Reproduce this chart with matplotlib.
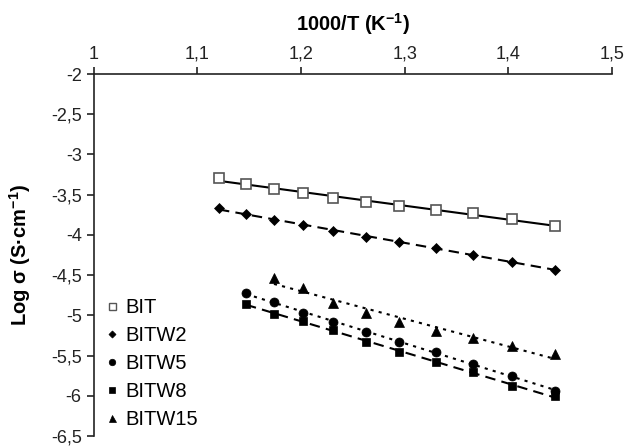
import numpy as np
import matplotlib
matplotlib.use("Agg")
import matplotlib.pyplot as plt
from matplotlib.lines import Line2D
from matplotlib.ticker import FuncFormatter, MultipleLocator

plt.rcParams['font.family'] = ['Liberation Sans', 'DejaVu Sans']
plt.rcParams['mathtext.fontset'] = 'custom'
plt.rcParams['mathtext.rm'] = 'Liberation Sans'
plt.rcParams['mathtext.bf'] = 'Liberation Sans:bold'

# 1000/T values (K^-1)
x_all = [1.121, 1.147, 1.174, 1.202, 1.231, 1.263, 1.295, 1.330, 1.366, 1.404, 1.445]

# Log sigma values per sample
bit = [-3.29, -3.37, -3.43, -3.48, -3.54, -3.59, -3.64, -3.69, -3.73, -3.80, -3.89]
bitw2 = [-3.67, -3.74, -3.81, -3.88, -3.95, -4.02, -4.09, -4.16, -4.25, -4.34, -4.43]
bitw5 = [-4.72, -4.84, -4.97, -5.08, -5.21, -5.33, -5.45, -5.61, -5.75, -5.94]
bitw8 = [-4.86, -4.98, -5.07, -5.18, -5.33, -5.46, -5.58, -5.71, -5.88, -6.00]
bitw15 = [-4.53, -4.66, -4.85, -4.97, -5.08, -5.19, -5.28, -5.38, -5.48]

series = [
    ('BIT', x_all, bit, 's', 7, 'none', '-'),
    ('BITW2', x_all, bitw2, 'D', 5, 'black', (0, (5, 3))),
    ('BITW5', x_all[1:], bitw5, 'o', 6.5, 'black', (0, (1.5, 2.5))),
    ('BITW8', x_all[1:], bitw8, 's', 6, 'black', (0, (5, 3))),
    ('BITW15', x_all[2:], bitw15, '^', 7, 'black', (0, (1.5, 2.5))),
]

fig = plt.figure(figsize=(6.29, 4.46), dpi=100)
ax = fig.add_axes([0.1487, 0.0224, 0.973 - 0.1487, 0.834 - 0.0224])

handles = []
for name, xs, ys, mk, ms, fc, ls in series:
    xs = np.array(xs)
    ys = np.array(ys)
    # linear trendline through the points
    k, b = np.polyfit(xs, ys, 1)
    ax.plot(xs, k * xs + b, color='black', lw=1.5, linestyle=ls, zorder=2)
    ec = '#555555' if fc == 'none' else 'black'
    ax.plot(xs, ys, linestyle='none', marker=mk, markersize=ms,
            markerfacecolor='white' if fc == 'none' else fc,
            markeredgecolor=ec, markeredgewidth=1.2 if fc == 'none' else 0.5, zorder=3)
    handles.append(Line2D([], [], linestyle='none', marker=mk, markersize=ms * 0.72,
                          markerfacecolor='white' if fc == 'none' else fc,
                          markeredgecolor=ec, markeredgewidth=1.0 if fc == 'none' else 0.5,
                          label=name))

ax.set_xlim(1, 1.5)
ax.set_ylim(-6.5, -2)
ax.xaxis.set_major_locator(MultipleLocator(0.1))
ax.yaxis.set_major_locator(MultipleLocator(0.5))
comma = FuncFormatter(lambda v, p: ('%g' % round(v, 2)).replace('.', ','))
ax.xaxis.set_major_formatter(comma)
ax.yaxis.set_major_formatter(comma)

ax.xaxis.tick_top()
ax.xaxis.set_label_position('top')
ax.spines['bottom'].set_visible(False)
ax.spines['right'].set_visible(False)
for s in ('top', 'left'):
    ax.spines[s].set_linewidth(1.2)
    ax.spines[s].set_color('#222222')
ax.tick_params(axis='both', direction='out', length=5, width=1.2, colors='#222222',
               labelsize=13, labelcolor='#222222')
ax.tick_params(axis='x', pad=3)

ax.set_xlabel(r'1000/T (K$^{\mathbf{-1}}$)', fontsize=14.5, fontweight='bold', labelpad=11)
ax.set_ylabel(r'Log σ (S·cm$^{\mathbf{-1}}$)', fontsize=14.5, fontweight='bold', labelpad=13)

ax.legend(handles=handles, loc='lower left', bbox_to_anchor=(0.024, 0.018), frameon=False,
          fontsize=14.5, handlelength=0.6, handletextpad=0.35, labelspacing=0.45,
          borderaxespad=0, borderpad=0)

fig.savefig('out.png', dpi=100)
